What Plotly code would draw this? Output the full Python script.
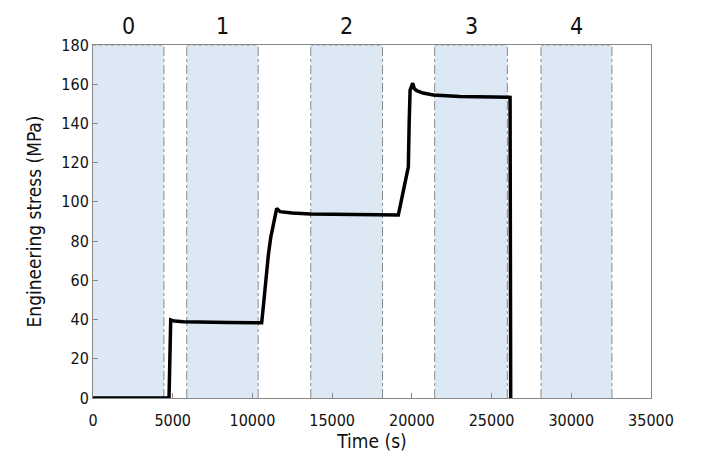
import plotly.graph_objects as go

# stress history
time_s = [0, 4768, 4874, 5100, 5665, 6713, 8500, 10300, 10580,
          10700, 10850, 11000, 11150, 11310, 11430, 11525, 11730, 12500, 13610, 16000, 19150,
          19450, 19780, 19830, 19890, 20055, 20150, 20305, 20700, 21350, 23000, 26160,
          26200]
stress_mpa = [0, 0, 39.8, 39.2, 38.9, 38.6, 38.5, 38.4, 38.4,
              48.0, 62.0, 73.0, 82.0, 89.0, 93.5, 96.7, 95.0, 94.3, 93.8, 93.5, 93.3,
              105.0, 117.9, 140.0, 157.0, 160.5, 157.8, 156.7, 155.5, 154.5, 153.8, 153.3,
              0]

# shaded intervals and their labels
band_start = [0, 5880, 13660, 21430, 28100]
band_end = [4450, 10360, 18160, 25990, 32550]
band_labels = ['0', '1', '2', '3', '4']

font_name = 'DejaVu Sans Condensed, DejaVu Sans, sans-serif'

fig = go.Figure()

for x0, x1, lab in zip(band_start, band_end, band_labels):
    fig.add_shape(type='rect', xref='x', yref='y', x0=x0, x1=x1, y0=0, y1=180,
                  fillcolor='#dde8f5', line=dict(width=0), layer='below')
    for xv in (x0, x1):
        if xv == 0:
            continue
        fig.add_shape(type='line', xref='x', yref='y', x0=xv, x1=xv, y0=0, y1=180,
                      line=dict(color='#8a8a8a', width=1, dash='dashdot'), layer='below')
    fig.add_shape(type='line', xref='x', yref='y', x0=x0, x1=x1, y0=180, y1=180,
                  line=dict(color='#8a8a8a', width=1, dash='dot'), layer='below')
    fig.add_annotation(x=(x0 + x1) / 2, y=1.0, xref='x', yref='paper',
                       text=lab, showarrow=False,
                       yanchor='bottom', yshift=4,
                       font=dict(family=font_name, size=23, color='#111'))

fig.add_trace(go.Scatter(x=time_s, y=stress_mpa, mode='lines',
                         line=dict(color='black', width=3.5),
                         showlegend=False, hoverinfo='skip'))

fig.update_layout(
    width=703, height=463,
    paper_bgcolor='white',
    plot_bgcolor='white',
    margin=dict(l=85, r=60, t=37, b=73),
    font=dict(family=font_name, size=16, color='#111'),
)
fig.update_xaxes(range=[0, 35000], dtick=5000, tick0=0, tickformat='d',
                 showgrid=False, zeroline=False, automargin=False,
                 showline=True, linecolor='#888', linewidth=1, mirror=True,
                 ticks='inside', ticklen=5, tickcolor='#888', ticklabelstandoff=8,
                 title=dict(text='Time (s)', font=dict(size=19), standoff=4))
fig.update_yaxes(range=[0, 180], dtick=20, tick0=0,
                 showgrid=False, zeroline=False, automargin=False,
                 showline=True, linecolor='#888', linewidth=1, mirror=True,
                 ticks='inside', ticklen=5, tickcolor='#888',
                 title=dict(text='Engineering stress (MPa)', font=dict(size=19), standoff=14))

fig.write_html('out.html')
